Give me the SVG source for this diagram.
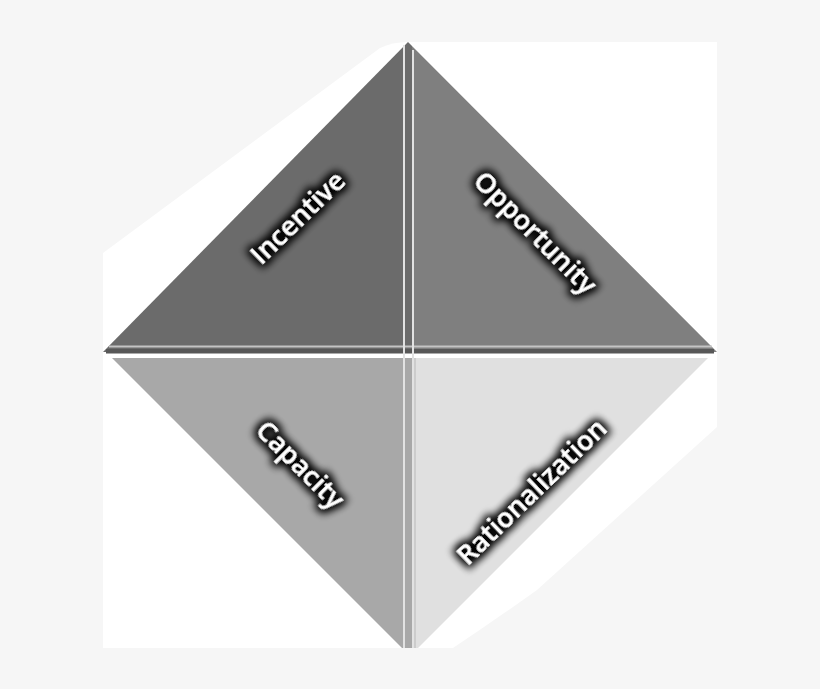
<svg xmlns="http://www.w3.org/2000/svg" width="820" height="689" viewBox="0 0 820 689">
  <defs>
    <filter id="glow" x="-20%" y="-80%" width="140%" height="260%">
      <feMorphology in="SourceAlpha" operator="dilate" radius="2" result="d"/>
      <feGaussianBlur in="d" stdDeviation="4" result="b"/>
      <feFlood flood-color="#000" flood-opacity="0.95"/>
      <feComposite in2="b" operator="in" result="s"/>
      <feMerge>
        <feMergeNode in="s"/>
        <feMergeNode in="s"/>
        <feMergeNode in="SourceGraphic"/>
      </feMerge>
    </filter>
  </defs>
  <style>
    .lbl { font-family: "Open Sans", "Noto Sans", sans-serif; font-weight: 600; font-size: 27px; fill: #ffffff; text-anchor: middle; filter: url(#glow); }
    .hl { stroke: #c4c4c4; stroke-width: 2; fill: none; }
    .vl { stroke: #e2e2e2; stroke-width: 2; fill: none; }
  </style>
  <rect x="0" y="0" width="820" height="689" fill="#f6f6f6"/>
  <path d="M103,253 L380,48 Q392,42 408,42 L717,42 L717,427 L537,590 Q495,620 453,648 L103,648 Z" fill="#ffffff"/>

  <g id="incentive">
    <polygon points="408,42 103,352 412,352 412,46" fill="#6b6b6b"/>
    <text class="lbl" transform="translate(298,218) rotate(-44)" dy="0.35em">Incentive</text>
  </g>
  <g id="opportunity">
    <polygon points="408,42 717,352 412,352 412,46" fill="#7f7f7f"/>
    <text class="lbl" transform="translate(535,233) rotate(45)" dy="0.35em">Opportunity</text>
  </g>
  <g id="capacity">
    <polygon points="112,358 412,358 412,648 402,648" fill="#a8a8a8"/>
    <text class="lbl" transform="translate(300,465) rotate(45)" dy="0.35em">Capacity</text>
  </g>
  <g id="rationalization">
    <polygon points="413,358 708,358 418,648 413,648" fill="#e0e0e0"/>
    <text class="lbl" transform="translate(532,492) rotate(-44)" dy="0.35em">Rationalization</text>
  </g>

  <g id="dividers">
    <rect x="106" y="349" width="608" height="4.5" fill="#575757"/>
    <line class="hl" x1="109" y1="346.5" x2="712" y2="346.5"/>
    <rect x="104" y="354" width="612" height="4" fill="#ffffff"/>
    <line class="vl" x1="404" y1="45" x2="404" y2="648"/>
    <line class="vl" x1="413" y1="50" x2="413" y2="648"/>
    <line x1="415" y1="358" x2="415" y2="648" stroke="#b8b8b8" stroke-width="1"/>
  </g>
</svg>
